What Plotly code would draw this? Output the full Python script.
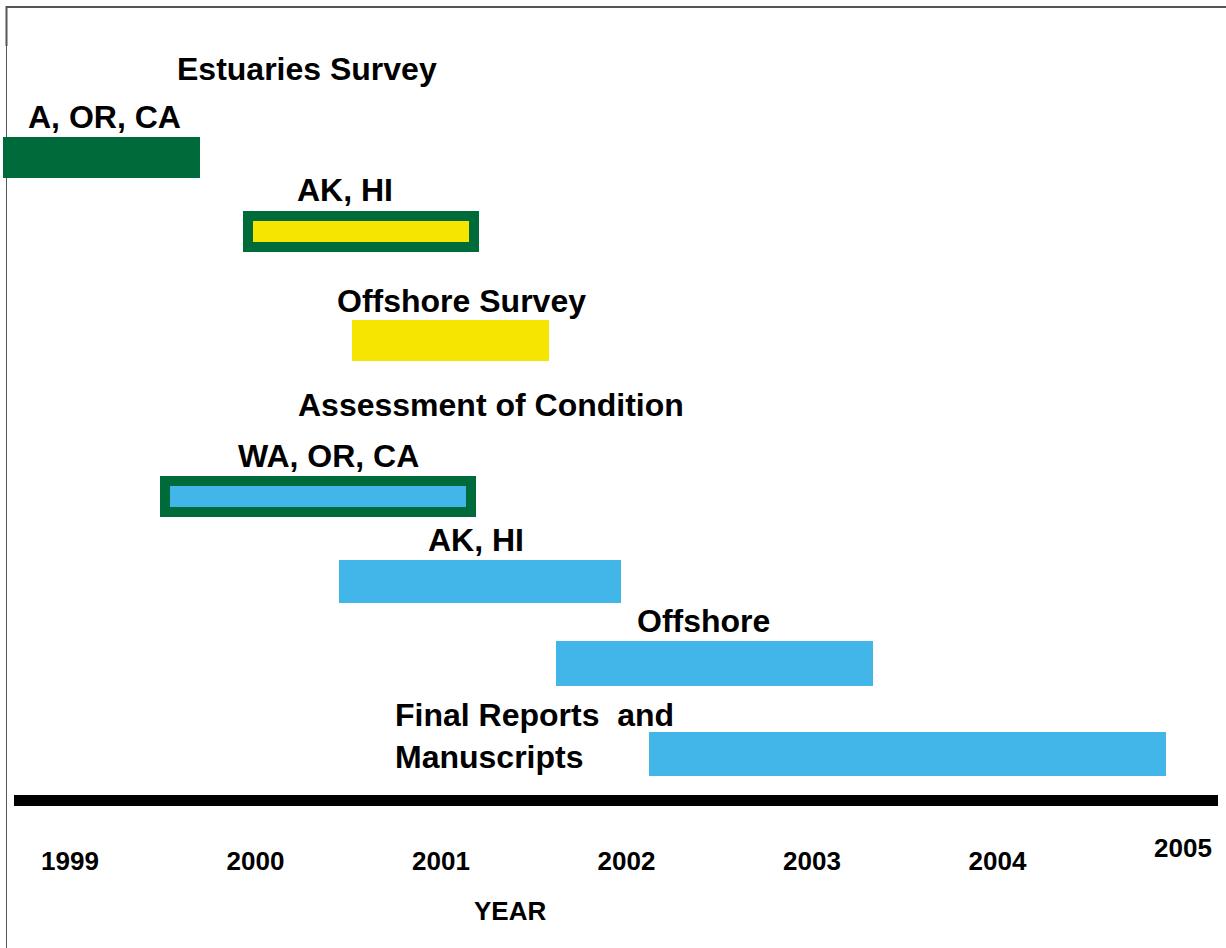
import plotly.graph_objects as go

# --- data -------------------------------------------------------------
tasks = ["WA, OR, CA estuaries", "AK, HI estuaries", "Offshore survey",
         "WA, OR, CA assessment", "AK, HI assessment", "Offshore assessment",
         "Final reports and manuscripts"]
start_year = [1998.64, 1999.96, 2000.52, 1999.51, 2000.45, 2001.62, 2002.12]
end_year = [1999.70, 2001.18, 2001.58, 2001.16, 2001.97, 2003.33, 2004.91]
years = [1999, 2000, 2001, 2002, 2003, 2004, 2005]
year_labels = ["1999", "2000", "2001", "2002", "2003", "2004", "2005"]

# --- layout / style ---------------------------------------------------
W, H = 1226, 948
GREEN = "#006b3a"
YELLOW = "#f6e500"
BLUE = "#42b5e9"

# lane centres and thicknesses (pixels, y axis runs top->bottom)
lane_y = [157.5, 231.5, 340.5, 496, 581.5, 663.5, 754]
lane_h = [41, 31, 41, 31, 43, 45, 44]
fill = [GREEN, YELLOW, YELLOW, BLUE, BLUE, BLUE, BLUE]
edge_w = [0, 10, 0, 10, 0, 0, 0]

# year -> pixel mapping
PX0, PX_PER_YEAR = 70, 185.5


def yr(px):
    return 1999 + (px - PX0) / PX_PER_YEAR


def pxx(v):
    return v / W


def pxy(v):
    return 1 - v / H


fig = go.Figure()
fig.add_trace(go.Bar(
    orientation="h",
    y=lane_y,
    base=start_year,
    x=[e - s for s, e in zip(start_year, end_year)],
    width=lane_h,
    marker=dict(color=fill, line=dict(color=GREEN, width=edge_w)),
    hovertext=tasks,
    hoverinfo="text",
    showlegend=False,
))
# empty traces so the extra axes (timeline bar, raised 2005 label) get drawn
fig.add_trace(go.Scatter(x=[], y=[], xaxis="x2", yaxis="y", showlegend=False, hoverinfo="skip"))
fig.add_trace(go.Scatter(x=[], y=[], xaxis="x3", yaxis="y", showlegend=False, hoverinfo="skip"))

label_font = dict(family="Liberation Sans, Arial, sans-serif", size=32,
                  color="black", weight="bold")
labels = [
    ("Estuaries Survey", 175, 69),
    ("A, OR, CA", 26, 117),
    ("AK, HI", 295, 190),
    ("Offshore Survey", 335, 301),
    ("Assessment of Condition", 296, 405),
    ("WA, OR, CA", 236, 456),
    ("AK, HI", 426, 540),
    ("Offshore", 635, 621),
    ("Final Reports \u00a0and<br>Manuscripts", 393, 736),
]
for text, lx, cy in labels:
    fig.add_annotation(text=text, x=pxx(lx), y=pxy(cy), xref="paper", yref="paper",
                       xanchor="left", yanchor="middle", showarrow=False,
                       align="left", font=label_font)

year_font = dict(family="Liberation Sans Narrow, Liberation Sans, Arial, sans-serif",
                 size=26, color="black", weight="bold")
fig.add_annotation(text="YEAR", x=pxx(510), y=pxy(911), xref="paper", yref="paper",
                   xanchor="center", yanchor="middle", showarrow=False, font=year_font)

# frame lines
fig.add_shape(type="line", xref="paper", yref="paper", x0=pxx(6), x1=1,
              y0=pxy(7), y1=pxy(7), line=dict(color="#555555", width=2), layer="below")
fig.add_shape(type="line", xref="paper", yref="paper", x0=pxx(6.5), x1=pxx(6.5),
              y0=pxy(6), y1=pxy(46), line=dict(color="#555555", width=2), layer="below")
fig.add_shape(type="line", xref="paper", yref="paper", x0=pxx(6.5), x1=pxx(6.5),
              y0=pxy(46), y1=0, line=dict(color="#555555", width=1), layer="below")

fig.update_layout(
    width=W, height=H, autosize=False,
    margin=dict(l=0, r=0, t=0, b=0),
    paper_bgcolor="white", plot_bgcolor="rgba(0,0,0,0)",
    bargap=0,
    xaxis=dict(domain=[0, 1], range=[yr(0), yr(W)], anchor="free", position=pxy(843),
               showgrid=False, zeroline=False, showline=False, ticks="",
               tickvals=years[:-1], ticktext=year_labels[:-1], tickfont=year_font),
    xaxis2=dict(domain=[pxx(14), pxx(1218)], range=[yr(14), yr(1218)], anchor="free",
                position=pxy(800), showgrid=False, zeroline=False, showline=True,
                linewidth=11, linecolor="black", ticks="", showticklabels=False),
    xaxis3=dict(overlaying="x", range=[yr(0), yr(W)], anchor="free", position=pxy(830),
                showgrid=False, zeroline=False, showline=False, ticks="",
                tickvals=years[-1:], ticktext=year_labels[-1:], tickfont=year_font),
    yaxis=dict(domain=[0, 1], range=[H, 0], visible=False),
)

fig.write_html("out.html", config={"displayModeBar": False},
               post_script="document.body.style.margin='0';")
